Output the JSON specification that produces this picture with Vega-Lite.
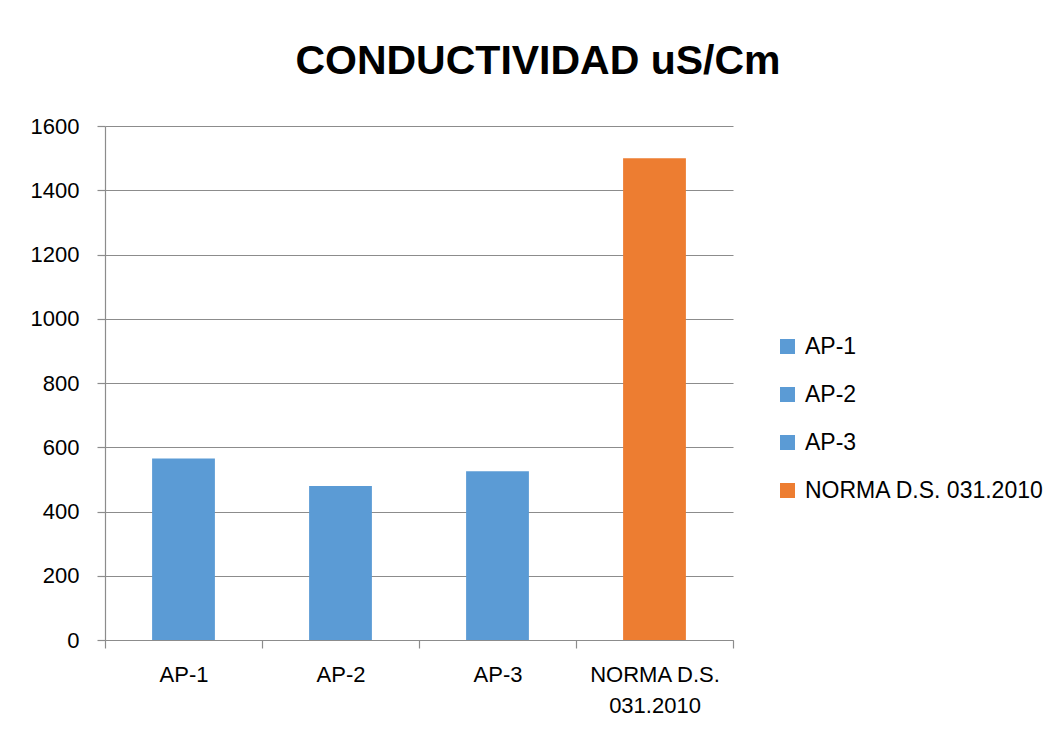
{
  "$schema": "https://vega.github.io/schema/vega-lite/v6.json",
  "autosize": "none",
  "padding": {"left": 105, "top": 126, "right": 321, "bottom": 91},
  "width": 628,
  "height": 514,
  "background": "white",
  "title": {
    "text": "CONDUCTIVIDAD uS/Cm",
    "font": "Liberation Sans",
    "fontSize": 41,
    "fontWeight": "bold",
    "color": "#000000",
    "anchor": "middle",
    "dx": 119,
    "offset": 32
  },
  "data": {
    "values": [
      {"muestra": "AP-1", "valor": 565},
      {"muestra": "AP-2", "valor": 479},
      {"muestra": "AP-3", "valor": 525},
      {"muestra": "NORMA D.S. 031.2010", "valor": 1500}
    ]
  },
  "mark": {"type": "bar", "width": {"band": 0.4}},
  "encoding": {
    "x": {
      "field": "muestra",
      "type": "nominal",
      "sort": null,
      "title": null,
      "scale": {"paddingInner": 0, "paddingOuter": 0},
      "axis": {
        "tickBand": "extent",
        "labelAngle": 0,
        "labelFont": "Liberation Sans",
        "labelFontSize": 22,
        "labelColor": "#000000",
        "labelPadding": 16,
        "labelLineHeight": 31,
        "labelExpr": "datum.label == 'NORMA D.S. 031.2010' ? ['NORMA D.S.', '031.2010'] : datum.label",
        "domainColor": "#8c8c8c",
        "tickColor": "#8c8c8c",
        "tickSize": 8,
        "grid": false
      }
    },
    "y": {
      "field": "valor",
      "type": "quantitative",
      "title": null,
      "scale": {"domain": [0, 1600], "nice": false},
      "axis": {
        "values": [0, 200, 400, 600, 800, 1000, 1200, 1400, 1600],
        "format": "d",
        "labelFont": "Liberation Sans",
        "labelFontSize": 22,
        "labelColor": "#000000",
        "labelPadding": 18,
        "domainColor": "#8c8c8c",
        "tickColor": "#8c8c8c",
        "tickSize": 8,
        "grid": true,
        "gridColor": "#8c8c8c",
        "gridWidth": 1.2
      }
    },
    "color": {
      "field": "muestra",
      "type": "nominal",
      "sort": null,
      "scale": {
        "domain": ["AP-1", "AP-2", "AP-3", "NORMA D.S. 031.2010"],
        "range": ["#5B9BD5", "#5B9BD5", "#5B9BD5", "#ED7D31"]
      },
      "legend": {
        "title": null,
        "orient": "none",
        "legendX": 671,
        "legendY": 209,
        "padding": 0,
        "symbolType": "square",
        "symbolSize": 225,
        "symbolStrokeWidth": 0,
        "labelFont": "Liberation Sans",
        "labelFontSize": 23,
        "labelColor": "#000000",
        "labelOffset": 6,
        "rowPadding": 24,
        "labelLimit": 400
      }
    }
  },
  "config": {
    "view": {"stroke": null},
    "axis": {"domainWidth": 1.2, "tickWidth": 1.2}
  }
}
